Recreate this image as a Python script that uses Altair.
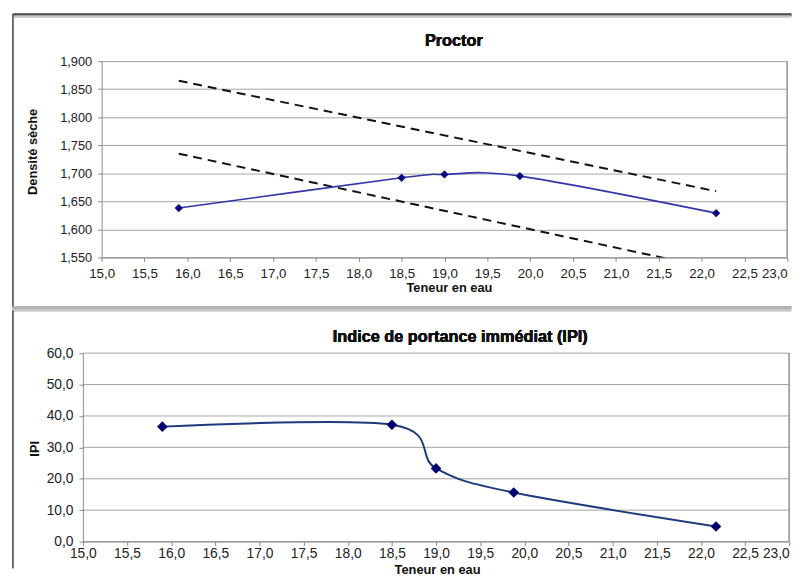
import altair as alt
import pandas as pd

# ---------------- data ----------------
teneur = [15.9, 18.5, 19.0, 19.88, 22.17]
densite = [1.638, 1.692, 1.698, 1.695, 1.629]
ipi = [36.6, 37.2, 23.3, 15.6, 4.8]

sat_x = [15.9, 22.17]
sat_upper = [1.865, 1.668]
sat_lower = [1.735, 1.529]

x_ticks = [15.0, 15.5, 16.0, 16.5, 17.0, 17.5, 18.0, 18.5, 19.0, 19.5,
           20.0, 20.5, 21.0, 21.5, 22.0, 22.5, 23.0]
y1_ticks = [1.55, 1.60, 1.65, 1.70, 1.75, 1.80, 1.85, 1.90]
y2_ticks = [0, 10, 20, 30, 40, 50, 60]

FONT = "Liberation Sans"

proctor = pd.DataFrame({"x": teneur, "y": densite})
ipi_df = pd.DataFrame({"x": teneur, "y": ipi})
sat_df = pd.concat([
    pd.DataFrame({"x": sat_x, "y": sat_upper, "s": "upper"}),
    pd.DataFrame({"x": sat_x, "y": sat_lower, "s": "lower"}),
])
grid2_df = pd.DataFrame({"y": y2_ticks})

lab1 = "replace(format(datum.value, '.1f'), '.', ',')"
lab3 = "replace(format(datum.value, '.3f'), '.', ',')"
last_right = {"condition": {"test": "datum.value >= 23", "value": "right"}, "value": "center"}

axis_common = dict(
    domainColor="#8a8a8a", tickColor="#8a8a8a", tickSize=4,
    labelColor="#222222", titleColor="#111111", labelFont=FONT, titleFont=FONT,
    titleFontWeight="bold", titleFontSize=13,
)
BORDER = "#a0a0a0"
RIGHT = 699  # right end of the frame lines, relative to the plot origin

# ---------------- top panel: Proctor ----------------
W1, H1 = 695, 199
x1 = alt.X("x:Q", scale=alt.Scale(domain=[15, 23], nice=False),
           axis=alt.Axis(values=x_ticks, labelExpr=lab1, grid=False,
                         labelFontSize=13.5, labelPadding=5, labelAlign=last_right,
                         title="Teneur en eau", titleX=352, titleY=31,
                         titleBaseline="middle", titleAlign="center",
                         **axis_common))
y1 = alt.Y("y:Q", scale=alt.Scale(domain=[1.55, 1.90], nice=False, zero=False),
           axis=alt.Axis(values=y1_ticks, labelExpr=lab3, grid=True,
                         gridColor="#8c8c8c", gridWidth=0.8,
                         labelFontSize=13, labelPadding=6,
                         title="Densité sèche", titleX=-69.5, titleY=91.5,
                         titleBaseline="middle", titleAlign="center", titleAngle=-90,
                         **axis_common))

sat = alt.Chart(sat_df).mark_line(color="#111111", strokeWidth=2, strokeDash=[9, 6],
                                  clip=True).encode(x=x1, y=y1, detail="s:N")
pline = alt.Chart(proctor).mark_line(color="#3434a8", strokeWidth=1.6,
                                     interpolate="cardinal", tension=0).encode(x=x1, y=y1)
ppts = alt.Chart(proctor).mark_point(shape="diamond", filled=True, opacity=1,
                                     color="#0a0a80", size=70).encode(x=x1, y=y1)

title1 = alt.Chart(proctor).mark_text(text="Proctor", font=FONT, fontSize=16.5,
                                      fontWeight="bold", color="#111111",
                                      align="center", baseline="alphabetic").encode(
    x=alt.value(357), y=alt.value(-15))

# frame decorations of the top panel
f1_top = alt.Chart(proctor).mark_rule(color="#4a4a4a", strokeWidth=2).encode(
    x=alt.value(-90), x2=alt.value(RIGHT), y=alt.value(-47))
f1_top2 = alt.Chart(proctor).mark_rule(color="#c4c4c4", strokeWidth=1.5).encode(
    x=alt.value(-89), x2=alt.value(RIGHT), y=alt.value(-45.2))
f1_left = alt.Chart(proctor).mark_rule(color="#666666", strokeWidth=1).encode(
    x=alt.value(-90), y=alt.value(-47), y2=alt.value(250))
f1_bot = alt.Chart(proctor).mark_rule(color="#b4b4b4", strokeWidth=3).encode(
    x=alt.value(-90), x2=alt.value(RIGHT), y=alt.value(250))
b1_right = alt.Chart(proctor).mark_rule(color=BORDER, strokeWidth=1).encode(
    x=alt.value(W1), y=alt.value(0), y2=alt.value(H1))

top = alt.layer(f1_top, f1_top2, f1_left, f1_bot, b1_right,
                sat, pline, ppts, title1).properties(width=W1, height=H1)

# ---------------- bottom panel: IPI ----------------
# plot origin shared with the top panel; this panel's plot starts 19 px further left
SH = 19
W2, H2 = 716 - SH, 191
x2 = alt.X("x:Q", scale=alt.Scale(domain=[15, 23], nice=False, range=[-SH, W2]),
           axis=alt.Axis(values=x_ticks, labelExpr=lab1, grid=False,
                         labelFontSize=14, labelPadding=1, labelAlign=last_right,
                         title="Teneur en eau", titleX=340, titleY=28,
                         titleBaseline="middle", titleAlign="center",
                         **axis_common))
y2 = alt.Y("y:Q", scale=alt.Scale(domain=[0, 60], nice=False),
           axis=alt.Axis(values=y2_ticks, labelExpr=lab1, grid=False, offset=SH,
                         labelFontSize=14, labelPadding=6,
                         title="IPI", titleX=-49.2, titleY=96.5,
                         titleBaseline="middle", titleAlign="center", titleAngle=-90,
                         **axis_common))

grid2 = alt.Chart(grid2_df).mark_rule(color="#8c8c8c", strokeWidth=0.8).encode(
    y=y2, x=alt.value(-SH), x2=alt.value(W2))
iline = alt.Chart(ipi_df).mark_line(color="#1f3a7c", strokeWidth=2,
                                    interpolate="cardinal", tension=0).encode(x=x2, y=y2)
ipts = alt.Chart(ipi_df).mark_point(shape="diamond", filled=True, opacity=1,
                                    color="#00006e", size=115).encode(x=x2, y=y2)

title2 = alt.Chart(ipi_df).mark_text(text="Indice de portance immédiat (IPI)", font=FONT,
                                     fontSize=16.5, fontWeight="bold", color="#111111",
                                     align="center", baseline="alphabetic").encode(
    x=alt.value(363.5), y=alt.value(-11.3))

f2_top = alt.Chart(ipi_df).mark_rule(color="#c8c8c8", strokeWidth=1).encode(
    x=alt.value(-90), x2=alt.value(RIGHT), y=alt.value(-43))
f2_left = alt.Chart(ipi_df).mark_rule(color="#666666", strokeWidth=1).encode(
    x=alt.value(-90), y=alt.value(-43), y2=alt.value(218))
b2_right = alt.Chart(ipi_df).mark_rule(color=BORDER, strokeWidth=1).encode(
    x=alt.value(W2), y=alt.value(0), y2=alt.value(H2))

bottom = alt.layer(f2_top, f2_left, b2_right, grid2, iline, ipts, title2).properties(
    width=W2, height=H2)

chart = alt.vconcat(top, bottom, spacing=0).properties(
    padding={"left": 11, "top": 10, "right": 0, "bottom": 0},
    background="white",
).configure_view(strokeWidth=0)

chart.save("out.html", embed_options={"renderer": "svg", "actions": False})
